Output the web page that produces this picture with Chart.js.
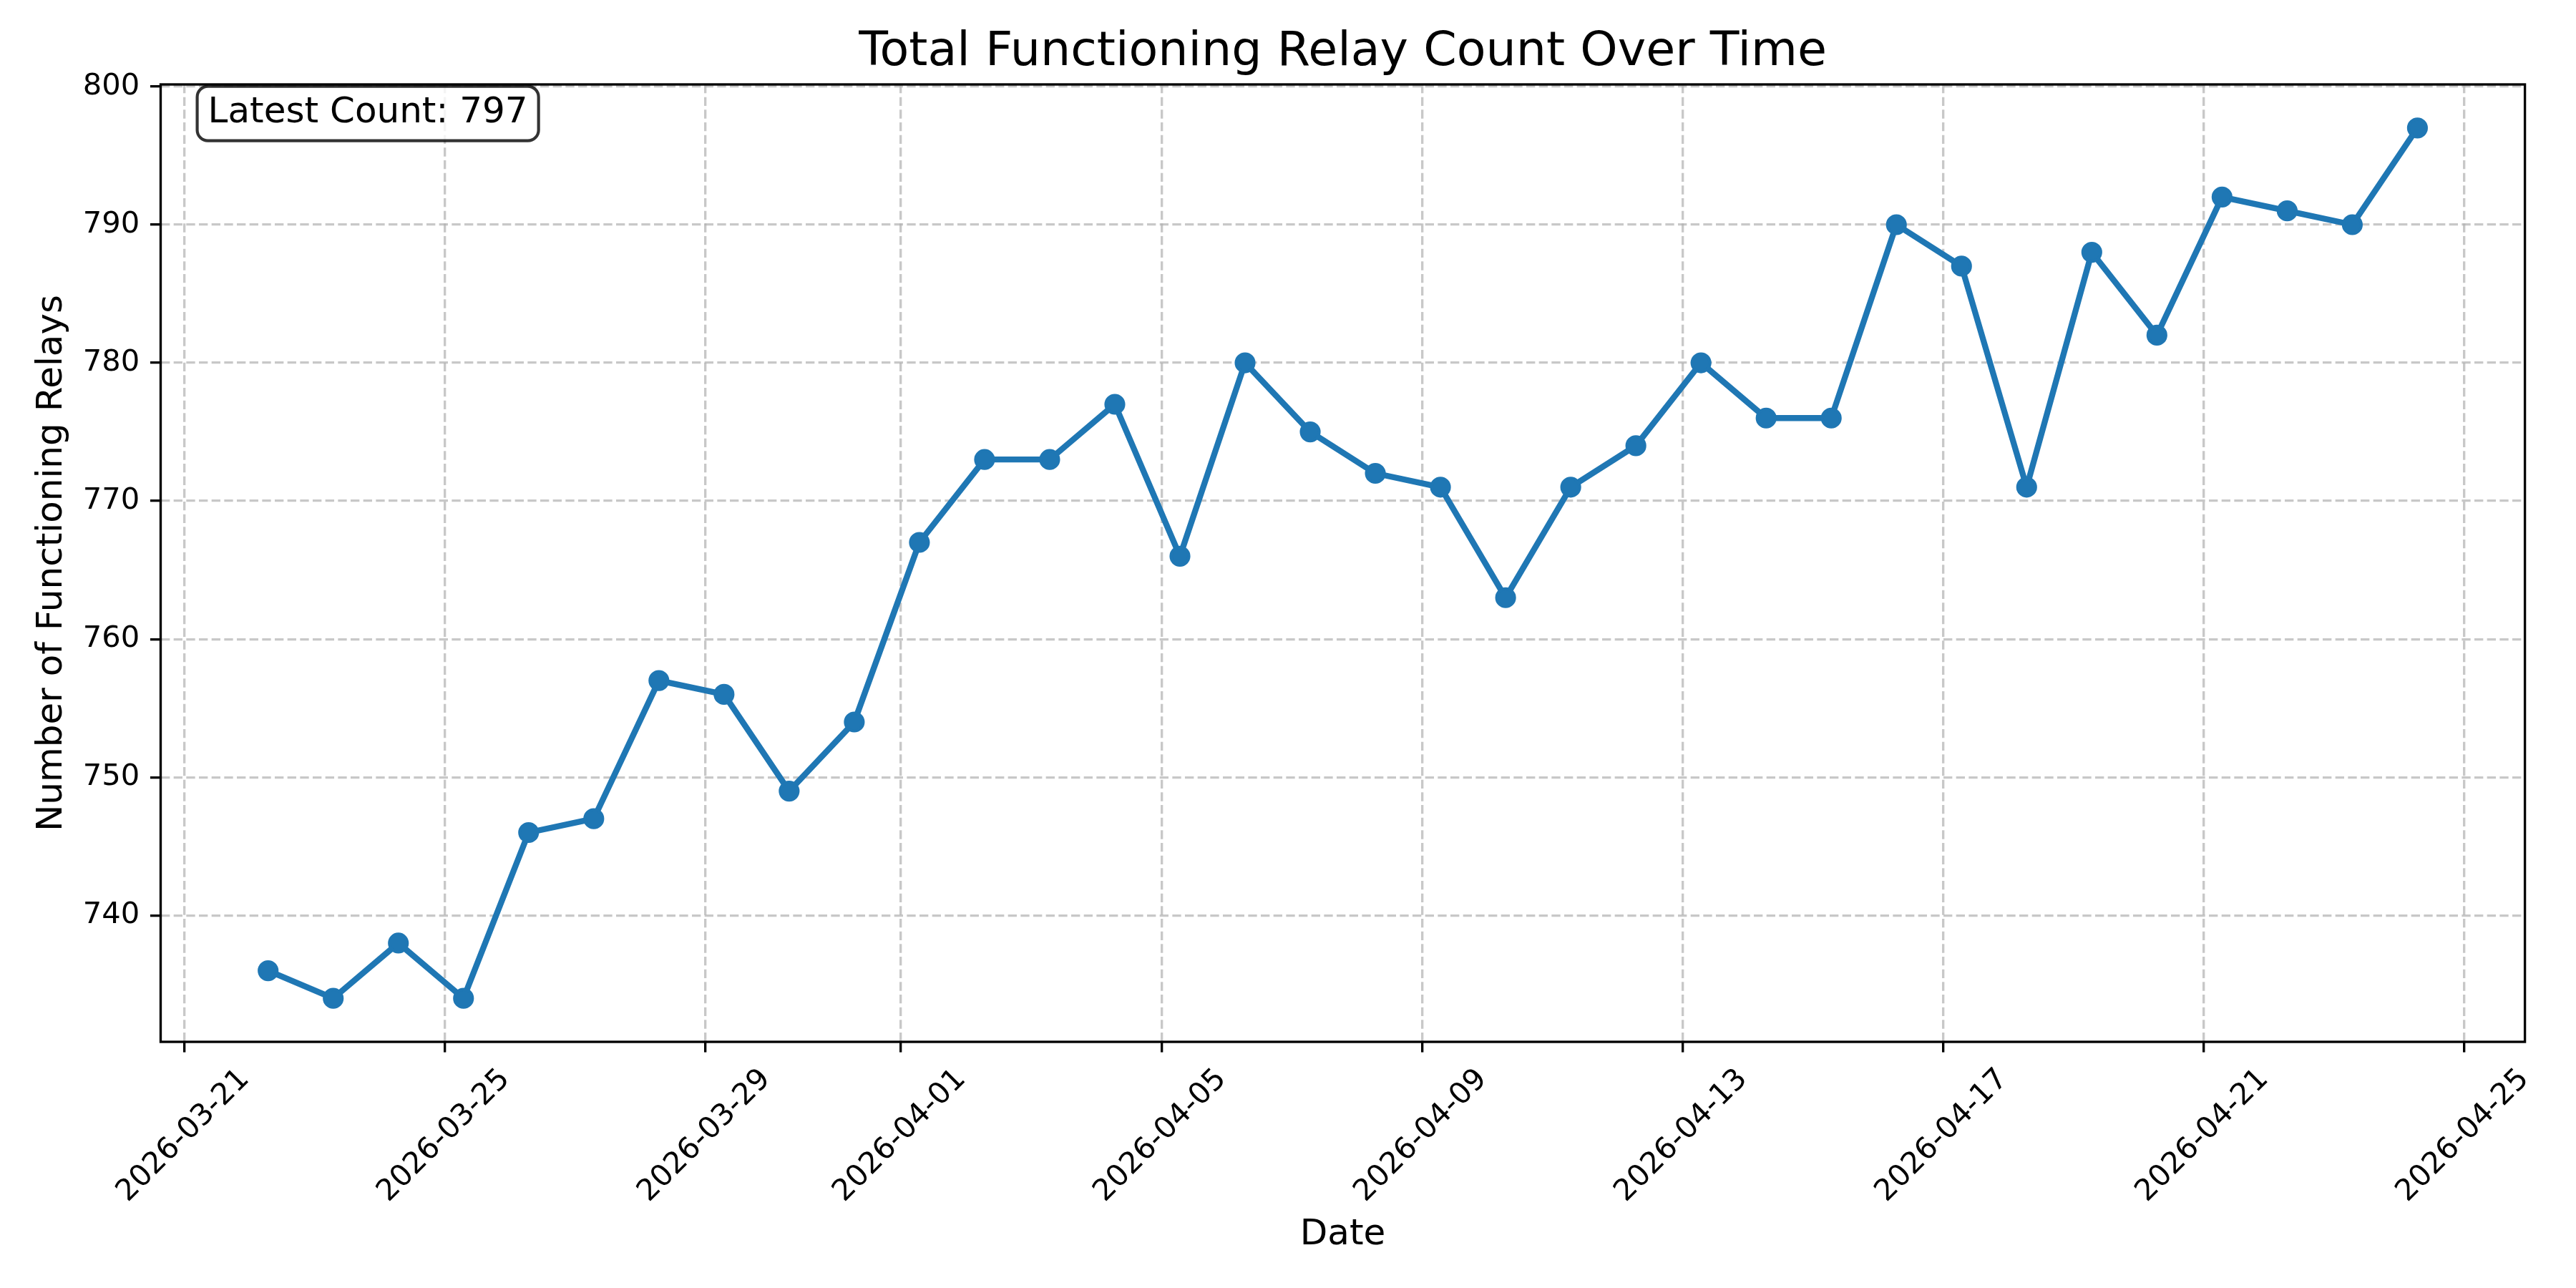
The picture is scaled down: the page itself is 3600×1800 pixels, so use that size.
<!DOCTYPE html>
<html>
<head>
<meta charset="utf-8">
<script src="https://cdn.jsdelivr.net/npm/chart.js@4.4.1/dist/chart.umd.min.js"></script>
<style>
  html, body { margin: 0; padding: 0; background: #ffffff; }
  canvas { display: block; }
</style>
</head>
<body>
<canvas id="chart" width="3600" height="1800"></canvas>
<script>
// ---------------- data ----------------
const timestamps = [
  '2026-03-22 06:48', '2026-03-23 06:48', '2026-03-24 06:48', '2026-03-25 06:48',
  '2026-03-26 06:48', '2026-03-27 06:48', '2026-03-28 06:48', '2026-03-29 06:48',
  '2026-03-30 06:48', '2026-03-31 06:48', '2026-04-01 06:48', '2026-04-02 06:48',
  '2026-04-03 06:48', '2026-04-04 06:48', '2026-04-05 06:48', '2026-04-06 06:48',
  '2026-04-07 06:48', '2026-04-08 06:48', '2026-04-09 06:48', '2026-04-10 06:48',
  '2026-04-11 06:48', '2026-04-12 06:48', '2026-04-13 06:48', '2026-04-14 06:48',
  '2026-04-15 06:48', '2026-04-16 06:48', '2026-04-17 06:48', '2026-04-18 06:48',
  '2026-04-19 06:48', '2026-04-20 06:48', '2026-04-21 06:48', '2026-04-22 06:48',
  '2026-04-23 06:48', '2026-04-24 06:48'
];
const relayCounts = [
  736, 734, 738, 734, 746, 747, 757, 756, 749, 754,
  767, 773, 773, 777, 766, 780, 775, 772, 771, 763,
  771, 774, 780, 776, 776, 790, 787, 771, 788, 782,
  792, 791, 790, 797
];
const xTickDates = [
  '2026-03-21', '2026-03-25', '2026-03-29', '2026-04-01', '2026-04-05',
  '2026-04-09', '2026-04-13', '2026-04-17', '2026-04-21', '2026-04-25'
];
const yTicks = [740, 750, 760, 770, 780, 790, 800];
const chartTitle = 'Total Functioning Relay Count Over Time';
const xAxisLabel = 'Date';
const yAxisLabel = 'Number of Functioning Relays';
const annotationPrefix = 'Latest Count: ';

// ---------------- helpers ----------------
const PT = 300 / 72;             // matplotlib points -> pixels at 300 dpi
const FAMILY = '"DejaVu Sans", "Liberation Sans", sans-serif';
const LINE_COLOR = '#1f77b4';
const GRID_COLOR = 'rgba(176,176,176,0.7)';

function toMs(s) {
  const parts = s.split(' ');
  const [Y, M, D] = parts[0].split('-').map(Number);
  const [h, m] = (parts[1] || '00:00').split(':').map(Number);
  return Date.UTC(Y, M - 1, D, h, m);
}

const xs = timestamps.map(toMs);
const xMin0 = Math.min(...xs), xMax0 = Math.max(...xs), xRange = xMax0 - xMin0;
const yMin0 = Math.min(...relayCounts), yMax0 = Math.max(...relayCounts), yRange = yMax0 - yMin0;

// frame (all four spines)
const framePlugin = {
  id: 'frame',
  afterDatasetsDraw(chart) {
    const { ctx, chartArea: a } = chart;
    ctx.save();
    ctx.strokeStyle = '#000000';
    ctx.lineWidth = 0.8 * PT;
    ctx.lineJoin = 'miter';
    ctx.setLineDash([]);
    ctx.strokeRect(a.left, a.top, a.right - a.left, a.bottom - a.top);
    ctx.restore();
  }
};

// "Latest Count" text box
const latestBoxPlugin = {
  id: 'latestBox',
  afterDraw(chart) {
    const { ctx, chartArea: a } = chart;
    const latest = relayCounts[relayCounts.length - 1];
    const text = annotationPrefix + latest;
    const fs = 12 * PT;
    ctx.save();
    ctx.font = fs + 'px ' + FAMILY;
    const tx = a.left + 0.02 * (a.right - a.left);
    const baseline = a.top + 53;
    const w = ctx.measureText(text).width;
    const pad = 0.3 * fs;
    const bx = tx - pad, by = baseline - 50.3;
    const bw = w + 2 * pad, bh = 76;
    ctx.beginPath();
    if (ctx.roundRect) {
      ctx.roundRect(bx, by, bw, bh, pad);
    } else {
      ctx.rect(bx, by, bw, bh);
    }
    ctx.fillStyle = 'rgba(255,255,255,0.8)';
    ctx.fill();
    ctx.lineWidth = 1 * PT;
    ctx.strokeStyle = 'rgba(0,0,0,0.8)';
    ctx.stroke();
    ctx.fillStyle = '#000000';
    ctx.textAlign = 'left';
    ctx.textBaseline = 'alphabetic';
    ctx.fillText(text, tx, baseline);
    ctx.restore();
  }
};

const ctx = document.getElementById('chart').getContext('2d');
new Chart(ctx, {
  type: 'line',
  data: {
    datasets: [{
      data: xs.map((x, i) => ({ x: x, y: relayCounts[i] })),
      borderColor: LINE_COLOR,
      backgroundColor: LINE_COLOR,
      borderWidth: 2 * PT,
      borderJoinStyle: 'round',
      borderCapStyle: 'square',
      pointRadius: 3 * PT,
      pointBorderWidth: 1 * PT,
      pointBackgroundColor: LINE_COLOR,
      pointBorderColor: LINE_COLOR,
      pointHoverRadius: 3 * PT,
      tension: 0,
      fill: false,
      clip: false
    }]
  },
  options: {
    responsive: false,
    animation: false,
    devicePixelRatio: 1,
    events: [],
    layout: { padding: { left: 0, right: 71.4, top: 0, bottom: 0 } },
    plugins: {
      legend: { display: false },
      tooltip: { enabled: false },
      title: {
        display: true,
        fullSize: false,
        text: chartTitle,
        color: '#000000',
        font: { family: FAMILY, size: 16 * PT, weight: 'normal', lineHeight: 1.2 },
        padding: { top: 33.5, bottom: 4.5 }
      }
    },
    scales: {
      x: {
        type: 'linear',
        min: xMin0 - 0.05 * xRange,
        max: xMax0 + 0.05 * xRange,
        afterBuildTicks: (s) => { s.ticks = xTickDates.map(d => ({ value: toMs(d) })); },
        afterFit: (s) => { s.height = 344; },
        ticks: {
          autoSkip: false,
          minRotation: 45,
          maxRotation: 45,
          labelOffset: 84.2,
          padding: 13.6,
          color: '#000000',
          font: { family: FAMILY, size: 10 * PT, lineHeight: 1.2 },
          callback: (v, i) => xTickDates[i]
        },
        grid: {
          color: GRID_COLOR,
          lineWidth: 0.8 * PT,
          drawTicks: true,
          tickLength: 3.5 * PT,
          tickColor: '#000000',
          tickWidth: 0.8 * PT
        },
        border: { display: false, dash: [3.7 * 0.8 * PT, 1.6 * 0.8 * PT] },
        title: {
          display: true,
          text: xAxisLabel,
          color: '#000000',
          font: { family: FAMILY, size: 12 * PT, lineHeight: 1.2 },
          padding: { top: 0, bottom: 43.8 }
        }
      },
      y: {
        type: 'linear',
        min: yMin0 - 0.05 * yRange,
        max: yMax0 + 0.05 * yRange,
        afterBuildTicks: (s) => { s.ticks = yTicks.map(v => ({ value: v })); },
        afterFit: (s) => { s.width = 224.5; },
        ticks: {
          padding: 3.5 * PT,
          color: '#000000',
          font: { family: FAMILY, size: 10 * PT, lineHeight: 1.2 },
          callback: (v) => String(v)
        },
        grid: {
          color: GRID_COLOR,
          lineWidth: 0.8 * PT,
          drawTicks: true,
          tickLength: 3.5 * PT,
          tickColor: '#000000',
          tickWidth: 0.8 * PT
        },
        border: { display: false, dash: [3.7 * 0.8 * PT, 1.6 * 0.8 * PT] },
        title: {
          display: true,
          text: yAxisLabel,
          color: '#000000',
          font: { family: FAMILY, size: 12 * PT, lineHeight: 1.2 },
          padding: { top: 43.5, bottom: 0 }
        }
      }
    }
  },
  plugins: [framePlugin, latestBoxPlugin]
});
</script>
</body>
</html>
